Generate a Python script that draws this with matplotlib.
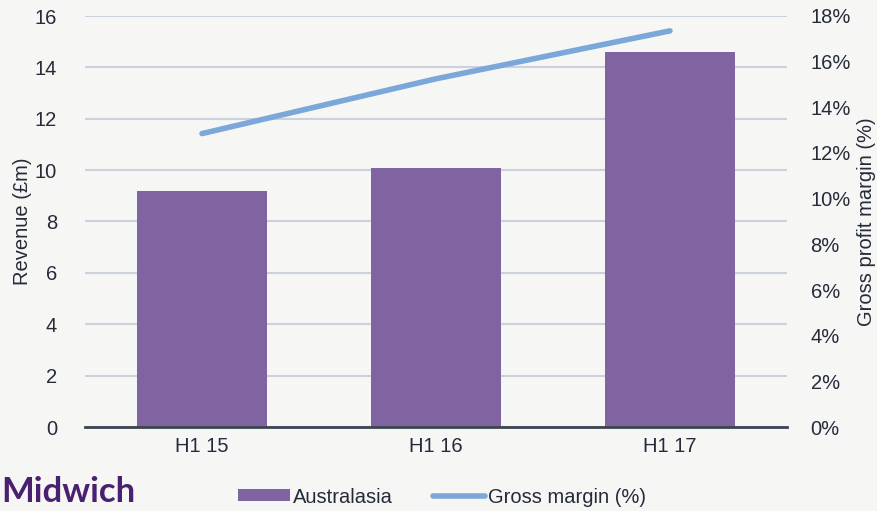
import matplotlib
matplotlib.use('Agg')
import matplotlib.pyplot as plt
import numpy as np

plt.rcParams['font.family'] = ['Liberation Sans', 'DejaVu Sans']

labels = ['H1 15', 'H1 16', 'H1 17']
revenue = [9.2, 10.1, 14.6]          # Australasia revenue (£m)
gross_margin = [12.85, 15.25, 17.35]  # gross margin (%)

text_col = '#262b3a'
bar_col = '#8064a2'
line_col = '#7ba7d9'
grid_col = '#ccd2dd'
fs = 14.5

fig = plt.figure(figsize=(8.78, 5.11), dpi=100, facecolor='#f6f6f5')
ax = fig.add_axes([85/878, 84/511, 702/878, 411/511])
ax.set_facecolor('none')

x = np.arange(len(labels))
ax.bar(x, revenue, width=0.555, color=bar_col, zorder=2, label='Australasia')
ax.set_xlim(-0.5, len(labels) - 0.5)
ax.set_ylim(0, 16)
ax.set_yticks(np.arange(0, 17, 2))
ax.yaxis.grid(True, color=grid_col, linewidth=1.5, zorder=0)
ax.set_axisbelow(True)
ax.set_xticks(x)
ax.set_xticklabels(labels)
ax.tick_params(axis='both', length=0, labelsize=fs, labelcolor=text_col)
ax.tick_params(axis='x', pad=7)
ax.tick_params(axis='y', pad=20)
for s in ['top', 'right', 'left']:
    ax.spines[s].set_visible(False)
ax.spines['bottom'].set_color('#3b4552')
ax.spines['bottom'].set_linewidth(2)
ax.spines['bottom'].set_zorder(3)
ax.set_ylabel('Revenue (£m)', fontsize=fs, color=text_col, labelpad=2)

ax2 = ax.twinx()
ax2.plot(x, gross_margin, color=line_col, linewidth=4, solid_capstyle='round',
         zorder=3, label='Gross margin (%)')
ax2.set_ylim(0, 18)
ax2.set_yticks(np.arange(0, 19, 2))
ax2.set_yticklabels([f'{v}%' for v in range(0, 19, 2)])
ax2.tick_params(axis='y', length=0, labelsize=fs, labelcolor=text_col, pad=17)
for s in ['top', 'right', 'left', 'bottom']:
    ax2.spines[s].set_visible(False)
ax2.set_ylabel('Gross profit margin (%)', fontsize=fs, color=text_col, labelpad=4)

h1, l1 = ax.get_legend_handles_labels()
h2, l2 = ax2.get_legend_handles_labels()
leg = fig.legend(h1 + h2, l1 + l2, loc='center', ncol=2,
                 bbox_to_anchor=(442/878, 1 - 497/511), frameon=False,
                 fontsize=fs, handlelength=2.6, handleheight=0.55,
                 handletextpad=0.15, columnspacing=2.0)
for t in leg.get_texts():
    t.set_color(text_col)

fig.text(0.001, 1 - 492/511, 'Midwich', fontsize=25, fontweight='bold',
         color='#4a2070', family=['Lato', 'DejaVu Sans'], va='center', ha='left')

fig.savefig('out.png', dpi=100, facecolor=fig.get_facecolor())
